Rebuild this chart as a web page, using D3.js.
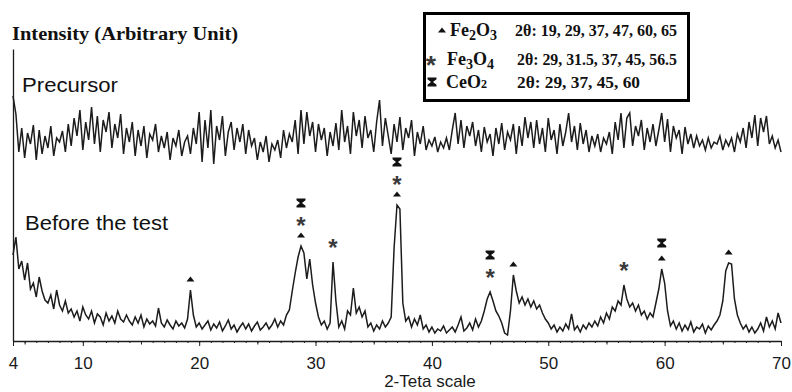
<!DOCTYPE html>
<html><head><meta charset="utf-8">
<script src="https://cdn.jsdelivr.net/npm/d3@7"></script>
<style>body{margin:0;background:#fff}</style>
</head><body><svg id="c" width="792" height="392"></svg>
<script>
// 2-theta sampling of the scans
const twoThetaStart = 4;
const twoThetaStep = 0.25;

// Precursor scan (arbitrary units, above its own baseline)
const precursor = [
  70, 52, 14, 38, 8, 33, 22, 41, 6, 36, 12, 30, 18, 40, 10, 28, 24, 35, 14, 42,
  20, 48, 30, 56, 16, 44, 26, 59, 22, 50, 14, 46, 34, 54, 18, 42, 28, 52, 12, 38,
  24, 44, 10, 36, 20, 40, 8, 32, 26, 42, 14, 30, 18, 34, 6, 28, 20, 36, 10, 24,
  30, 12, 38, 22, 54, 4, 46, 18, 56, 2, 40, 26, 50, 10, 34, 44, 16, 38, 24, 42,
  12, 36, 20, 28, 6, 24, 14, 30, 4, 22, 16, 26, 8, 36, 18, 32, 24, 46, 12, 56,
  22, 54, 30, 44, 14, 42, 26, 38, 10, 34, 20, 43, 16, 56, 24, 40, 12, 54, 30, 46,
  18, 50, 28, 36, 14, 44, 66, 20, 48, 30, 12, 42, 24, 49, 16, 38, 28, 46, 10, 34,
  22, 40, 16, 26, 20, 29, 14, 24, 18, 28, 16, 36, 53, 22, 46, 18, 40, 30, 44, 20,
  36, 14, 39, 24, 32, 10, 38, 22, 43, 16, 34, 26, 42, 12, 40, 20, 49, 28, 44, 18,
  46, 22, 38, 14, 48, 26, 36, 12, 42, 20, 34, 53, 24, 40, 16, 43, 22, 36, 14, 30,
  20, 32, 14, 28, 22, 34, 12, 44, 26, 53, 18, 48, 53, 20, 40, 30, 46, 16, 38, 24,
  42, 20, 36, 53, 24, 47, 14, 40, 28, 36, 12, 39, 22, 32, 18, 30, 20, 26, 16, 28,
  18, 24, 22, 30, 16, 26, 20, 28, 14, 32, 24, 38, 18, 44, 28, 51, 20, 48, 34, 50,
  22, 30, 18, 26, 14
];

// "Before the test" scan (arbitrary units)
const beforeTest = [
  86, 104, 72, 80, 61, 78, 52, 58, 44, 64, 50, 41, 38, 46, 32, 51, 36, 30, 40, 28,
  32, 24, 30, 20, 34, 26, 22, 30, 18, 27, 24, 16, 28, 20, 25, 18, 30, 22, 19, 26,
  20, 16, 24, 18, 26, 14, 22, 17, 20, 15, 33, 18, 14, 21, 16, 12, 20, 15, 18, 13,
  22, 51, 26, 14, 18, 12, 16, 20, 11, 17, 13, 19, 10, 15, 21, 12, 16, 9, 14, 18,
  12, 17, 10, 15, 19, 11, 14, 18, 12, 16, 22, 14, 20, 16, 26, 31, 50, 68, 84, 95,
  88, 62, 82, 56, 38, 24, 16, 20, 12, 18, 79, 40, 14, 20, 12, 30, 26, 53, 28, 34,
  24, 30, 14, 18, 10, 16, 12, 20, 14, 18, 24, 93, 136, 132, 38, 20, 24, 14, 22, 16,
  26, 12, 16, 9, 14, 8, 12, 10, 15, 8, 11, 14, 9, 16, 24, 10, 13, 18, 11, 22,
  14, 20, 30, 42, 49, 40, 30, 25, 18, 8, 6, 30, 66, 50, 38, 44, 36, 42, 34, 40,
  32, 36, 28, 22, 18, 12, 16, 9, 14, 10, 17, 12, 27, 11, 15, 9, 16, 12, 18, 14,
  20, 15, 24, 18, 28, 22, 34, 30, 40, 36, 56, 42, 34, 38, 30, 36, 26, 30, 22, 28,
  24, 38, 52, 72, 58, 30, 15, 20, 12, 18, 10, 16, 11, 19, 9, 14, 12, 17, 8, 15,
  11, 16, 20, 26, 40, 70, 78, 77, 42, 26, 18, 12, 16, 9, 14, 8, 12, 18, 10, 24,
  14, 20, 12, 28, 18
];

const xTickValues = [4, 10, 20, 30, 40, 50, 60, 70];

// Peak annotations (2-theta, phases)
const peakPositions = [19.25, 28.75, 31.5, 37, 45, 47, 56.5, 59.75, 65.5];
const peakPhases = [
  ["Fe2O3"], ["Fe2O3", "Fe3O4", "CeO2"], ["Fe3O4"], ["Fe2O3", "Fe3O4", "CeO2"],
  ["Fe3O4", "CeO2"], ["Fe2O3"], ["Fe3O4"], ["Fe2O3", "CeO2"], ["Fe2O3"]
];

// Legend
const legendPhases = ["Fe2O3", "Fe3O4", "CeO2"];
const legendPeaks = ["19, 29, 37, 47, 60, 65", "29, 31.5, 37, 45, 56.5", "29, 37, 45, 60"];

const precursorOffset = 175;

const svg = d3.select("#c");
const ink = "#1c1c1c";
const sans = "Liberation Sans, Arial, sans-serif";
const serif = "Liberation Serif, Times New Roman, serif";
const x = d3.scaleLinear().domain([4, 70]).range([13, 781]);
const y = d3.scaleLinear().domain([0, 292]).range([341, 49]);

const toPts = (arr, off) => arr.map((v, i) => [twoThetaStart + i * twoThetaStep, v + off]);
const line = d3.line().x(d => x(d[0])).y(d => y(d[1])).curve(d3.curveLinear);

svg.append("path").attr("d", line(toPts(precursor, precursorOffset)))
  .attr("fill", "none").attr("stroke", ink).attr("stroke-width", 1.5).attr("stroke-linejoin", "miter");
svg.append("path").attr("d", line(toPts(beforeTest, 0)))
  .attr("fill", "none").attr("stroke", ink).attr("stroke-width", 1.5).attr("stroke-linejoin", "miter");

// Axes
const minorAx = svg.append("g").attr("transform", "translate(0,341)")
  .call(d3.axisBottom(x).tickValues(d3.range(5, 70, 1)).tickSize(2).tickFormat(""));
minorAx.select(".domain").remove();
const midAx = svg.append("g").attr("transform", "translate(0,341)")
  .call(d3.axisBottom(x).tickValues(d3.range(5, 70, 10)).tickSize(3.5).tickFormat(""));
midAx.select(".domain").remove();
const xAx = svg.append("g").attr("transform", "translate(0,341)")
  .call(d3.axisBottom(x).tickValues(xTickValues).tickSize(5).tickSizeOuter(0).tickPadding(11).tickFormat(d3.format("d")));
xAx.select(".domain").attr("stroke", ink).attr("stroke-width", 1.3);
xAx.selectAll("text").attr("font-family", sans).attr("font-size", 17).attr("fill", "#1a1a1a");
svg.selectAll(".tick line").attr("stroke", ink);
const yAx = svg.append("g").attr("transform", "translate(13,0)")
  .call(d3.axisLeft(y).tickValues([]).tickSizeOuter(0));
yAx.select(".domain").attr("stroke", ink).attr("stroke-width", 1.3);

// Markers
function marker(g, phase, cx, cy, s) {
  s = s || 1;
  if (phase === "Fe2O3") {
    g.append("path").attr("d", `M${cx-4*s},${cy+2.5*s}L${cx},${cy-2.5*s}L${cx+4*s},${cy+2.5*s}Z`).attr("fill", "#111");
  } else if (phase === "Fe3O4") {
    const fs = 24 * s;
    g.append("text").attr("x", cx).attr("y", cy + 0.58 * fs).attr("text-anchor", "middle")
      .attr("font-family", sans).attr("font-weight", "bold")
      .attr("font-size", fs).attr("fill", "#3a3a3a").text("*");
  } else {
    const a = 4.5 * s, b = 2.8 * s, c = 1 * s;
    g.append("path").attr("d",
      `M${cx-a},${cy-a}H${cx+a}V${cy-b}L${cx+c},${cy}L${cx+a},${cy+b}V${cy+a}H${cx-a}V${cy+b}L${cx-c},${cy}L${cx-a},${cy-b}Z`)
      .attr("fill", "#111");
  }
}
const firstGap = { Fe2O3: 11, Fe3O4: 20, CeO2: 12 };
const nextGap = { Fe2O3: 15, Fe3O4: 17, CeO2: 17 };
const mg = svg.append("g");
peakPositions.forEach((p, k) => {
  const i = Math.round((p - twoThetaStart) / twoThetaStep);
  const top = d3.max(beforeTest.slice(Math.max(0, i - 1), i + 2));
  let cy = y(top);
  peakPhases[k].forEach((ph, j) => {
    cy -= j === 0 ? firstGap[ph] : nextGap[peakPhases[k][j - 1]];
    marker(mg, ph, x(p), cy);
  });
});

// Texts
svg.append("text").attr("x", 12).attr("y", 40)
  .attr("font-family", serif).attr("font-weight", "bold")
  .attr("font-size", 19).attr("fill", "#111")
  .attr("textLength", 226).attr("lengthAdjust", "spacingAndGlyphs")
  .text("Intensity (Arbitrary Unit)");
svg.append("text").attr("x", 22).attr("y", 92)
  .attr("font-family", sans).attr("font-size", 21).attr("fill", "#111")
  .attr("textLength", 96).attr("lengthAdjust", "spacingAndGlyphs").text("Precursor");
svg.append("text").attr("x", 25).attr("y", 230)
  .attr("font-family", sans).attr("font-size", 21).attr("fill", "#111")
  .attr("textLength", 143).attr("lengthAdjust", "spacingAndGlyphs").text("Before the test");
svg.append("text").attr("x", 430).attr("y", 387).attr("text-anchor", "middle")
  .attr("font-family", sans).attr("font-size", 17).attr("fill", "#1a1a1a").text("2-Teta scale");

// Legend box
const lg = svg.append("g");
lg.append("rect").attr("x", 424.5).attr("y", 13.5).attr("width", 264).attr("height", 87)
  .attr("fill", "#fff").attr("stroke", "#000").attr("stroke-width", 3);
const rowBase = [36, 65, 88];
const markerX = [442, 431, 432];
const labelX = [450, 447, 446];
const valueX = [515, 517, 517];
const valueW = [162, 160, 123];
legendPhases.forEach((ph, r) => {
  marker(lg, ph, markerX[r], rowBase[r] - 6, r === 1 ? 1.1 : 1);
  const t = lg.append("text").attr("x", labelX[r]).attr("y", rowBase[r])
    .attr("font-family", serif).attr("font-weight", "bold").attr("font-size", 18).attr("fill", "#111");
  const parts = ph.match(/[A-Za-z]+|\d+/g);
  parts.forEach(s => {
    const sp = t.append("tspan").text(s);
    if (/\d/.test(s)) {
      sp.attr("font-size", ph === "CeO2" ? 12 : 14);
      if (ph !== "CeO2") sp.attr("baseline-shift", "-4");
    }
  });
  lg.append("text").attr("x", valueX[r]).attr("y", rowBase[r])
    .attr("font-family", serif).attr("font-weight", "bold").attr("font-size", 17).attr("fill", "#111")
    .attr("textLength", valueW[r]).attr("lengthAdjust", "spacingAndGlyphs")
    .text("2θ: " + legendPeaks[r]);
});
</script>
</body></html>
